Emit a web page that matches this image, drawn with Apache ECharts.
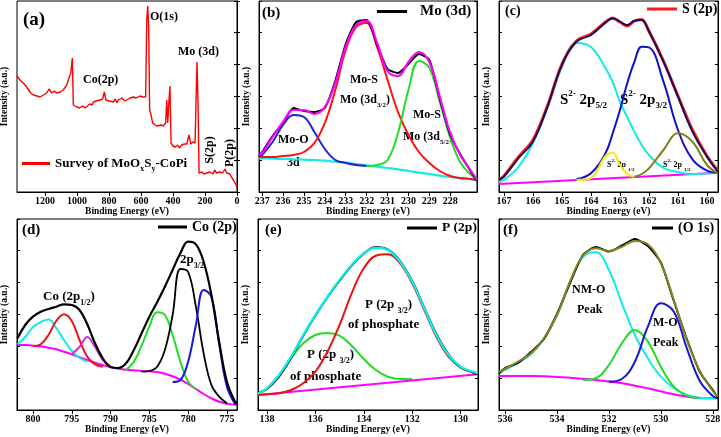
<!DOCTYPE html>
<html><head><meta charset="utf-8">
<script src="https://cdn.jsdelivr.net/npm/echarts@6/dist/echarts.min.js"></script>
<style>html,body{margin:0;padding:0;background:#fff}#c{width:721px;height:437px}</style>
</head><body><div id="c"></div>
<script>
// ---------------- DATA ----------------
// x tick labels per panel
const ticksA = [0, 200, 400, 600, 800, 1000, 1200];
const ticksB = [228, 229, 230, 231, 232, 233, 234, 235, 236, 237];
const ticksC = [160, 161, 162, 163, 164, 165, 166, 167];
const ticksD = [775, 780, 785, 790, 795, 800];
const ticksE = [130, 132, 134, 136, 138];
const ticksF = [528, 530, 532, 534, 536];

// (a) survey
const aX = [1375,1356,1330,1314,1290,1273,1250,1231,1210,1189,1175,1158,1140,1127,1105,1086,1064,1050,1039,1029,1023,1002,985,965,950,939,920,905,898,880,870,856,840,829,819,800,773,760,750,742,720,700,689,670,660,648,630,606,595,588,581,571,564,558,552,546,537,527,502,490,475,461,446,439,433,425,419,412,400,387,370,360,346,330,314,305,300,289,275,262,256,250,244,237,220,205,189,170,150,140,127,110,90,75,64,55,44,35,23,12,0];
const aSurvey = [116,112,108,105,99,97,96,95,97,99,103,99,101,99,100,102,107,114,119,134,87,85,84,86,84,86,88,87,90,91,89,92,93,100,92,91,90,93,89,92,94,91,92,94,93,95,94,96,98,95,97,95,172,186,165,82,77,69,66,64,67,66,69,92,69,92,106,49,46,45,47,44,47,48,48,47,57,48,50,49,92,130,92,19,20,18,19,20,18,22,19,20,19,23,19,21,18,15,12,9,5];

// (b) Mo 3d
const bX = [237.15,237,236.5,236,235.5,235,234.5,234,233.5,233,232.5,232,231.5,231,230.5,230,229.5,229,228.5,228,227.5,227,226.72];
const bFit = [37,39,55,70,82,82,78,85,109,145,167,171,149,121,116,130,140,130,95,59,36,21,12];
const bRaw = [36,40,56,69,84,81,80,84,111,148,170,172,147,123,119,128,138,132,93,57,37,20,11];
const bMoS32 = [35,35,35,36,37,40,49,69,102,142,165,169,145,112,80,57,40,29,21,16,14,13,12];
const bMoS52 = [null,null,null,null,null,null,null,null,null,null,null,26,27,32,59,102,131,124,90,54,29,17,13];
const bMoO = [35,37,50,67,77,75,60,43,32,29,27,26,null,null,null,null,null,null,null,null,null,null,null];
const bBase = [33.7,33.7,33.3,33,32.7,32.3,32,31.3,30.3,29.3,28,26.7,25.3,24,22.7,21,19.3,18,16.3,15,13.7,12.7,12];

// (c) S 2p
const cX = [167.17,167,166.5,166,165.5,165,164.5,164,163.5,163.25,163,162.75,162.5,162.25,162,161.5,161,160.5,160,159.62];
const cFit = [12,15.3,33.7,50.3,85.3,127,150.3,157,169.3,173.7,170.3,167,171.3,172,160.3,130.3,95.3,60.3,35.3,20.3];
const cRaw = [12.5,16,35,52,86,128,151,158,170,174,170,166,171,172.5,161,131,96,62,36,21];
const cS52 = [10,12,25,49,84,125,149,145,124,110,90,75,60,47,37,24,20,18,18.5,19];
const cS32 = [null,null,null,null,null,null,12.7,18.7,38.7,58.7,82,108.7,130.3,145.3,144.7,110.3,62,32.7,21.3,19.3];
const cS12a = [null,null,null,null,null,null,12,14,36,39.5,27,18,15,null,null,null,null,null,null,null];
const cS12b = [null,null,null,null,null,null,null,null,null,null,null,null,15.3,18,23.7,42,58.7,50.3,27,18.7];
const cBaseX = [167.17, 159.62];
const cBase = [8, 19.3];

// (d) Co 2p
const dX = [802,801,800,799,798,797,796,795,794,793,792,791,790,789,788,787,786,785,784,783,782,781,780,779,778,777,776,775,774,773.7];
const dFit = [71.7,85,93.3,98.3,101,103.3,105.7,105,100,85.7,66.7,51.7,43,42,46.7,60,76.7,93.3,107.7,123.3,140,156.7,168.3,165.7,148.3,115,68.3,28.3,9,6.7];
const dBase = [65,65,64.3,63.7,62.3,60.7,58.3,55.7,52.7,50,47.3,45,42.7,41.3,40.3,39.7,39,38.7,38,36.3,33.7,30.3,26,21,16,11.7,8.3,6.3,5.3,5];
const dCyan = [65.7,73,83,88,90.5,82,70,59,52.3,48.3,null,null,null,null,null,null,null,null,null,null,null,null,null,null,null,null,null,null,null,null];
const dRed = [null,null,64,65.7,75,89,95.7,89,70,53.3,45.7,43.3,null,null,null,null,null,null,null,null,null,null,null,null,null,null,null,null,null,null];
const dViolet = [null,null,null,null,null,null,null,56,63,73,63,50,44,null,null,null,null,null,null,null,null,null,null,null,null,null,null,null,null,null];
const dGreen = [null,null,null,null,null,null,null,null,null,null,null,null,null,null,40,48.3,64.3,83.3,97.7,95,75,48.3,28.3,21,null,null,null,null,null,null];
const dMain = [null,null,null,null,null,null,null,null,null,null,null,null,null,null,null,null,38.3,39,43.3,60,95,141,138,103.3,56.7,25,13.3,6.7,null,null];
const dBlue = [null,null,null,null,null,null,null,null,null,null,null,null,null,null,null,null,null,null,null,null,28,30,48.3,85,120,113.3,66,23.3,6.7,5.5];

// (e) P 2p
const eX = [138.37,138,137.5,137,136.5,136,135.5,135,134.5,134,133.5,133,132.5,132,131.5,131,130.5,130,129.5,129.28];
const eFit = [16.7,21.7,35,53.3,75,95,113.3,130,145,156.7,162.3,160,148.3,128.3,101.7,75,55,43.3,38.3,36.7];
const eRaw = [17.3,21,33.3,52.3,74.3,94.3,112.7,129.3,144.3,156.3,163,160.3,149,129,102.3,76,55.7,42.7,37.7,35.7];
const eRed = [15,15.7,16.7,20,26.7,38.3,58.3,85,116.7,141.7,154.3,155.7,146.7,126.7,100,73.3,53.3,42.7,37.7,36];
const eGreen = [16.7,21,34.3,51.7,66.7,75,77,74.3,64.3,51,40,33.3,31,31,null,null,null,null,null,null];
const eBaseX = [138.37, 129.28];
const eBase = [15, 35.7];

// (f) O 1s
const fX = [536.23,536,535.5,535,534.5,534,533.5,533,532.5,532,531.5,531,530.5,530,529.5,529,528.5,528,527.8];
const fFit = [38.3,41,48.3,56.7,71.7,95,128.3,154.3,161.7,159,163.3,169,165.7,146.7,110,70,39,19,13.3];
const fRaw = [36.5,42,47,58,71,96,127,155,163,158.5,164.5,171,164,147.5,109,71,38,20,12];
const fNMO = [36.7,40,47.3,55.7,71,94.3,126.7,153,157.7,140,106.7,75,51.7,33.3,21.7,15,12.3,11.7,11.7];
const fGreen = [null,null,null,null,null,null,null,30,31.7,45,66.7,80,68.3,43.3,23.3,14.3,11.7,null,null];
const fMO = [null,null,null,null,null,null,null,null,null,28.3,31,48.3,83.3,106.7,98.3,61.7,29,14,11.7];
const fBaseX = [536.23,535,533.5,532.5,531.5,530.5,529.5,528.5,527.8];
const fBase = [34,34,32.3,30,26.7,21.7,15.7,12,11.7];

// ---------------- CHART ----------------
const F = "'Liberation Serif','Times New Roman',serif";
const pairs = (xs, ys) => xs.map((x, i) => ys[i] == null ? null : [x, ys[i]]).filter(p => p);

const gridBoxes = [
  {left:17, top:1, width:220, height:191},
  {left:259, top:1, width:218, height:191},
  {left:499, top:1, width:219, height:191},
  {left:17, top:219, width:220, height:191},
  {left:258, top:219, width:220, height:191},
  {left:499, top:219, width:219, height:191}
];
const ranges = [[0,1375],[226.72,237.15],[159.62,167.17],[773.7,802.06],[129.28,138.37],[527.8,536.23]];
const ticks = [ticksA, ticksB, ticksC, ticksD, ticksE, ticksF];

const grid = gridBoxes.map(g => Object.assign({show:true, borderColor:'#000', borderWidth:1,
  backgroundColor:'transparent', containLabel:false, outerBoundsMode:'none'}, g));
const xAxis = ranges.map((r, i) => ({
  gridIndex:i, type:'value', inverse:true, min:r[0], max:r[1],
  axisLine:{show:true, onZero:false, lineStyle:{color:'#000', width:1}},
  axisTick:{show:true, inside:false, length:4, customValues:ticks[i], lineStyle:{color:'#000'}},
  axisLabel:{customValues:ticks[i], formatter:v => String(v), color:'#000', fontFamily:F, fontWeight:'bold', fontSize:10, margin:4},
  splitLine:{show:false},
  name:'Binding Energy (eV)', nameLocation:'middle', nameGap:15,
  nameTextStyle:{color:'#000', fontFamily:F, fontWeight:'bold', fontSize:9.5}
}));
const yAxis = [];
ranges.forEach((r, i) => {
  yAxis.push({gridIndex:i, type:'value', min:0, max:191, interval:32,
    axisLine:{show:true, lineStyle:{color:'#000'}},
    axisTick:{show:true, inside:true, length:3, lineStyle:{color:'#000'}},
    axisLabel:{show:false}, splitLine:{show:false},
    name:'Intensity (a.u.)', nameLocation:'middle', nameGap:7, nameRotate:90,
    nameTextStyle:{color:'#000', fontFamily:F, fontWeight:'bold', fontSize:9.5}});
  yAxis.push({gridIndex:i, type:'value', position:'right', min:0, max:191, interval:32,
    axisLine:{show:true, lineStyle:{color:'#000'}},
    axisTick:{show:true, inside:true, length:3, lineStyle:{color:'#000'}},
    axisLabel:{show:false}, splitLine:{show:false}});
});

function S(name, panel, xs, ys, color, width, smooth) {
  return {name, type:'line', xAxisIndex:panel, yAxisIndex:panel*2, data:pairs(xs, ys),
    symbol:'none', smooth: smooth === undefined ? 0.4 : smooth, silent:true, animation:false,
    lineStyle:{color, width}, itemStyle:{color}};
}
const CY = '#12eaea', GR = '#22dd22', MG = '#ff00ff';
const series = [
  S('Survey', 0, aX, aSurvey, '#ff0000', 1.4, false),

  S('bBase', 1, bX, bBase, CY, 2.2),
  S('bMoO', 1, bX, bMoO, '#2020d0', 2),
  S('bMoS32', 1, bX, bMoS32, '#ff1010', 2),
  S('bMoS52', 1, bX, bMoS52, GR, 2),
  S('Mo3d', 1, bX, bRaw, '#000', 2, 0.2),
  S('bFit', 1, bX, bFit, MG, 2.2),

  S('cBase', 2, cBaseX, cBase, MG, 2, false),
  S('cS52', 2, cX, cS52, CY, 2),
  S('cS32', 2, cX, cS32, '#1010c8', 2),
  S('cS12a', 2, cX, cS12a, '#eeee00', 2),
  S('cS12b', 2, cX, cS12b, '#80801a', 2),
  S('S2p', 2, cX, cRaw, '#ff1a1a', 3, 0.3),
  S('cFit', 2, cX, cFit, '#0c0c60', 1.8),

  S('dBase', 3, dX, dBase, MG, 2),
  S('dCyan', 3, dX, dCyan, CY, 2),
  S('dRed', 3, dX, dRed, '#ee1111', 2),
  S('dViolet', 3, dX, dViolet, '#cc33cc', 2),
  S('dGreen', 3, dX, dGreen, GR, 2),
  S('dMain', 3, dX, dMain, '#000', 1.8),
  S('dBlue', 3, dX, dBlue, '#1818e0', 2),
  S('Co2p', 3, dX, dFit, '#000', 2.2),

  S('eBase', 4, eBaseX, eBase, MG, 2, false),
  S('eGreen', 4, eX, eGreen, GR, 2),
  S('eRed', 4, eX, eRed, '#ee1111', 2),
  S('P2p', 4, eX, eRaw, '#000', 2),
  S('eFit', 4, eX, eFit, CY, 2.4),

  S('fBase', 5, fBaseX, fBase, MG, 2),
  S('fNMO', 5, fX, fNMO, CY, 2),
  S('fGreen', 5, fX, fGreen, GR, 2),
  S('fMO', 5, fX, fMO, '#1818d0', 2),
  S('O1s', 5, fX, fRaw, '#000', 2, 0.2),
  S('fFit', 5, fX, fFit, '#858520', 2)
];

function richSet(size) {
  const s = Math.round(size * 0.62);
  return {
    m:{fontSize:size, fontWeight:'bold', fontFamily:F, lineHeight:size + 6, color:'#000', fill:'#000'},
    s:{fontSize:s, fontWeight:'bold', fontFamily:F, lineHeight:s + 1, verticalAlign:'bottom', color:'#000', fill:'#000'},
    p:{fontSize:s, fontWeight:'bold', fontFamily:F, lineHeight:s + 1, verticalAlign:'top', color:'#000', fill:'#000'}
  };
}
function legend(name, left, top, w, fmt, size, pad, col) {
  return {data:[{name, icon:'rect', itemStyle:{color:col}}], left, top, itemWidth:w, itemHeight:3, itemGap:0, padding:0, selectedMode:false,
    formatter: () => fmt,
    textStyle:{color:'#000', fontFamily:F, fontWeight:'bold', fontSize:size, padding:[0,0,0,pad||0], rich:richSet(size)}};
}
const legends = [
  legend('Survey', 22, 157, 28, '{m|Survey of MoO}{s|x}{m|S}{s|y}{m|-CoPi}', 13, 0, '#ff0000'),
  legend('Mo3d', 377, 4, 30, '{m|Mo (3d)}', 15, 8, '#000'),
  legend('S2p', 647, 2, 30, '{m|S (2p)}', 14, 0, '#ff1a1a'),
  legend('Co2p', 158, 220, 29, '{m|Co (2p)}', 14, 0, '#000'),
  legend('P2p', 407, 221, 30, '{m|P (2p)}', 13.5, 0, '#000'),
  legend('O1s', 652, 221, 21, '{m|(O 1s)}', 14, 0, '#000')
];

function T(x, y, text, size, rot) {
  const el = {type:'text', x, y, silent:true,
    style:{text, fill:'#000', font:'bold ' + size + 'px ' + F, rich:richSet(size),
      align: rot ? 'center' : 'left', verticalAlign:'middle',
      textAlign: rot ? 'center' : 'left', textVerticalAlign:'middle'}};
  if (rot) el.rotation = Math.PI / 2;
  return el;
}
const graphic = [
  T(23, 20, '{m|(a)}', 19),
  T(150, 17, '{m|O(1s)}', 12),
  T(178, 52, '{m|Mo (3d)}', 12),
  T(83, 80, '{m|Co(2p)}', 12),
  T(210, 150, '{m|S(2p)}', 12, true),
  T(230, 153, '{m|P(2p)}', 12, true),

  T(262, 13, '{m|(b)}', 15),
  T(350, 80, '{m|Mo-S}', 12),
  T(340, 100, '{m|Mo (3d}{s|3/2}{m|)}', 12),
  T(278, 140, '{m|Mo-O}', 12),
  T(287, 163, '{m|3d}', 12),
  T(413, 115, '{m|Mo-S}', 12),
  T(403, 137, '{m|Mo (3d}{s|5/2}{m|)}', 12),

  T(505, 11, '{m|(c)}', 14),
  T(560, 100, '{m|S}{p|2-}{m| 2p}{s|5/2}', 15),
  T(620, 100, '{m|S}{p|2-}{m| 2p}{s|3/2}', 15),
  T(607, 165, '{m|S}{p|2-}{m| 2p }{s|1/2}', 8),
  T(663, 165, '{m|S}{p|2-}{m| 2p }{s|1/2}', 8),

  T(22, 230, '{m|(d)}', 15),
  T(180, 260, '{m|2p}{s|3/2}', 13),
  T(43, 297, '{m|Co (2p}{s|1/2}{m|)}', 13),

  T(265, 230, '{m|(e)}', 15),
  T(365, 305, '{m|P (2p }{s|3/2}{m|)}', 13),
  T(348, 325, '{m|of phosphate}', 13),
  T(307, 355, '{m|P (2p }{s|3/2}{m|)}', 13),
  T(290, 377, '{m|of phosphate}', 13),

  T(503, 230, '{m|(f)}', 15),
  T(572, 290, '{m|NM-O}', 12),
  T(577, 310, '{m|Peak}', 12),
  T(653, 323, '{m|M-O}', 12),
  T(653, 343, '{m|Peak}', 12)
];

const chart = echarts.init(document.getElementById('c'), null, {renderer:'canvas', width:721, height:437});
chart.setOption({animation:false, backgroundColor:'#fff', grid, xAxis, yAxis, series, legend:legends, graphic});
</script></body></html>
